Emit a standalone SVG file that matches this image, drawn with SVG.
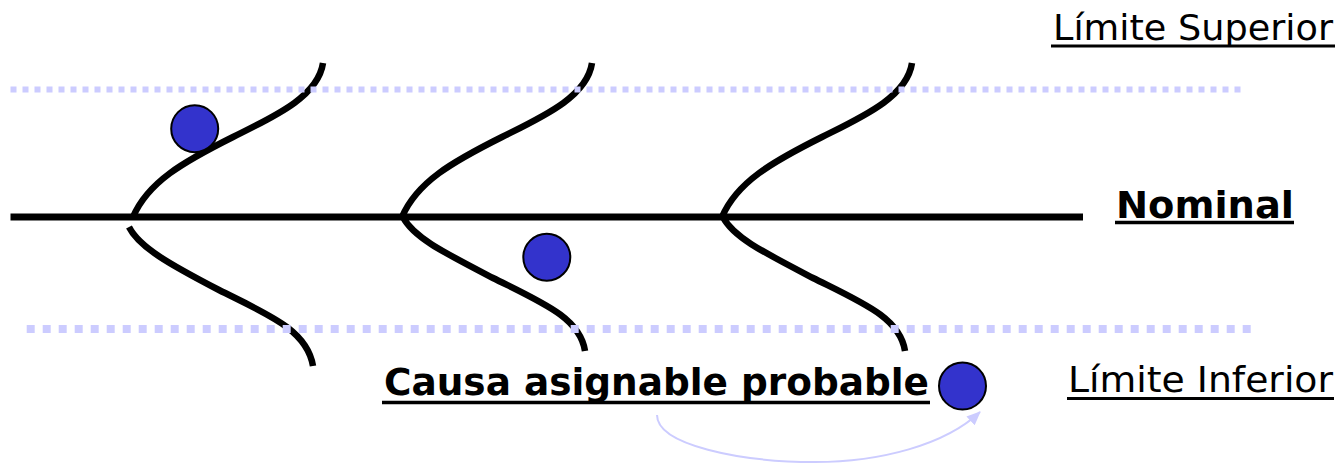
<svg xmlns="http://www.w3.org/2000/svg" width="1342" height="463" viewBox="0 0 1342 463">
  <style>
    .curve { fill: none; stroke: #000; stroke-width: 6.5; stroke-linecap: butt; }
    .axis { stroke: #000; stroke-width: 7; }
    .limit { stroke: #ccccff; stroke-linecap: butt; }
    .point { fill: #3333cc; stroke: #000; stroke-width: 2; }
    .lbl { font-family: "DejaVu Sans", Verdana, "Liberation Sans", sans-serif; fill: #000; }
    .ul { stroke: #000; }
    .conn { fill: none; stroke: #ccccff; stroke-width: 2; }
  </style>
  <defs>
    <marker id="arrow" markerUnits="userSpaceOnUse" markerWidth="16" markerHeight="12" refX="13" refY="6" orient="auto">
      <path d="M0,0 L14,6 L0,12 z" fill="#ccccff"/>
    </marker>
  </defs>
  <rect width="1342" height="463" fill="#fff"/>

  <g id="nominal-axis">
    <line class="axis" x1="10.5" y1="217" x2="1083" y2="217"/>
  </g>

  <g id="distribution-1">
    <path class="curve" d="M133,217 C148,182 183,162 233,137 C273,117 318,97 323,63"/>
    <path class="curve" d="M129,227 C139,247 169,264 219,290 C269,315 307,330 313,366"/>
  </g>
  <g id="distribution-2">
    <path class="curve" d="M402,217 C417,182 452,162 502,137 C542,117 587,97 592,63"/>
    <path class="curve" d="M403,217 C413,237 443,252 493,278 C543,303 580,318 585,351"/>
  </g>
  <g id="distribution-3">
    <path class="curve" d="M722,217 C737,182 772,162 822,137 C862,117 907,97 912,63"/>
    <path class="curve" d="M723,217 C733,237 763,252 813,278 C863,303 900,318 905,351"/>
  </g>

  <g id="limits">
    <line class="limit" x1="10.5" y1="89.5" x2="1241" y2="89.5" stroke-width="6" stroke-dasharray="6 6"/>
    <line class="limit" x1="26.7" y1="329" x2="1251" y2="329" stroke-width="8" stroke-dasharray="8 8"/>
  </g>

  <g id="point-1"><circle class="point" cx="194.7" cy="128.7" r="23.5"/></g>
  <g id="point-2"><circle class="point" cx="546.8" cy="257.2" r="23.5"/></g>
  <g id="point-3"><circle class="point" cx="962.5" cy="386" r="23.5"/></g>

  <g id="label-superior">
    <text class="lbl" x="1053" y="39.5" font-size="36" textLength="280" lengthAdjust="spacingAndGlyphs">Límite Superior</text>
    <line class="ul" x1="1051" y1="46" x2="1335" y2="46" stroke-width="3"/>
  </g>
  <g id="label-nominal">
    <text class="lbl" x="1116" y="218" font-size="38" font-weight="bold" textLength="178" lengthAdjust="spacingAndGlyphs">Nominal</text>
    <line class="ul" x1="1115" y1="222.5" x2="1294" y2="222.5" stroke-width="3.5"/>
  </g>
  <g id="label-causa">
    <text class="lbl" x="384" y="394.5" font-size="38" font-weight="bold" textLength="545" lengthAdjust="spacingAndGlyphs">Causa asignable probable</text>
    <line class="ul" x1="382" y1="402.5" x2="930" y2="402.5" stroke-width="3.5"/>
  </g>
  <g id="label-inferior">
    <text class="lbl" x="1068" y="392" font-size="36" textLength="265" lengthAdjust="spacingAndGlyphs">Límite Inferior</text>
    <line class="ul" x1="1067" y1="398.5" x2="1334" y2="398.5" stroke-width="3"/>
  </g>

  <g id="connectors">
    <path class="conn" d="M657,415 C657,445 740,462 815,462 C880,462 945,445 980,412" marker-end="url(#arrow)"/>
  </g>
</svg>
